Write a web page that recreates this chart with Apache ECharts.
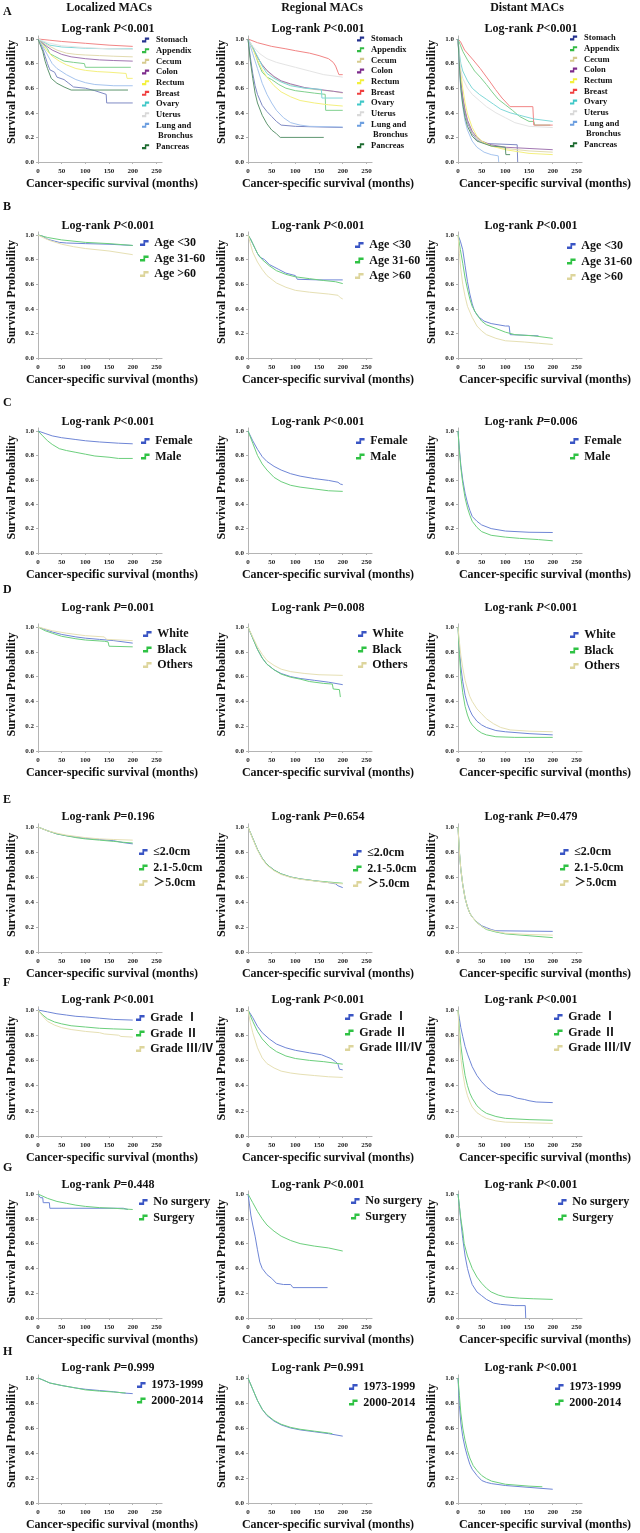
<!DOCTYPE html>
<html><head><meta charset="utf-8">
<script src="https://cdn.jsdelivr.net/npm/echarts@6/dist/echarts.min.js"></script>
<style>html,body{margin:0;padding:0;background:#fff}#c{width:640px;height:1533px}</style>
</head><body><div id="c"></div><script>
// ---------- tick labels / categories ----------
const xTicks = [0, 50, 100, 150, 200, 250];
const yTicks = [0, 0.2, 0.4, 0.6, 0.8, 1.0];
const colTitles = ['Localized MACs', 'Regional MACs', 'Distant MACs'];
const rowLetters = ['A', 'B', 'C', 'D', 'E', 'F', 'G', 'H'];
const pValues = [
  ['<0.001', '<0.001', '<0.001'],
  ['<0.001', '<0.001', '<0.001'],
  ['<0.001', '<0.001', '=0.006'],
  ['=0.001', '=0.008', '<0.001'],
  ['=0.196', '=0.654', '=0.479'],
  ['<0.001', '<0.001', '<0.001'],
  ['=0.448', '<0.001', '<0.001'],
  ['=0.999', '=0.991', '<0.001']
];
const groupNames = [
  ['Stomach', 'Appendix', 'Cecum', 'Colon', 'Rectum', 'Breast', 'Ovary', 'Uterus', 'Lung and Bronchus', 'Pancreas'],
  ['Age <30', 'Age 31-60', 'Age >60'],
  ['Female', 'Male'],
  ['White', 'Black', 'Others'],
  ['≤2.0cm', '2.1-5.0cm', '＞5.0cm'],
  ['Grade Ⅰ', 'Grade Ⅱ', 'Grade Ⅲ/Ⅳ'],
  ['No surgery', 'Surgery'],
  ['1973-1999', '2000-2014']
];

// ---------- survival data [month, probability] ----------
// Row A - Localized
const A1_stomach = [[0,1],[5,0.97],[10,0.92],[15,0.86],[20,0.8],[25,0.75],[35,0.73],[40,0.69],[55,0.67],[65,0.64],[75,0.61],[100,0.6],[120,0.58],[144,0.55],[145,0.48],[200,0.48]];
const A1_appendix = [[0,1],[10,0.96],[20,0.92],[25,0.88],[35,0.86],[45,0.84],[55,0.82],[75,0.81],[98,0.8],[100,0.77],[196,0.77]];
const A1_cecum = [[0,1],[20,0.95],[40,0.91],[60,0.885],[80,0.875],[100,0.87],[130,0.865],[160,0.86],[200,0.855]];
const A1_colon = [[0,1],[15,0.95],[30,0.91],[50,0.875],[70,0.855],[100,0.84],[130,0.83],[160,0.825],[200,0.82]];
const A1_rectum = [[0,1],[10,0.95],[20,0.9],[30,0.86],[45,0.82],[60,0.79],[80,0.76],[100,0.745],[125,0.735],[150,0.73],[186,0.72],[188,0.68],[200,0.68]];
const A1_breast = [[0,1],[25,0.99],[50,0.98],[100,0.965],[150,0.95],[200,0.94]];
const A1_ovary = [[0,1],[10,0.98],[25,0.95],[50,0.935],[100,0.925],[150,0.92],[200,0.92]];
const A1_uterus = [[0,1],[20,0.97],[50,0.945],[100,0.93],[150,0.92],[200,0.915]];
const A1_lung = [[0,1],[10,0.94],[20,0.87],[30,0.8],[40,0.76],[60,0.71],[80,0.67],[100,0.645],[120,0.63],[160,0.62],[200,0.62]];
const A1_pancreas = [[0,1],[10,0.9],[15,0.82],[20,0.76],[28,0.68],[40,0.64],[55,0.61],[70,0.585],[190,0.585]];
// Row A - Regional
const A2_stomach = [[0,1],[5,0.85],[10,0.72],[15,0.62],[20,0.55],[30,0.46],[40,0.41],[50,0.37],[60,0.33],[70,0.3],[100,0.29],[150,0.285],[200,0.28]];
const A2_appendix = [[0,1],[8,0.95],[15,0.88],[22,0.8],[30,0.73],[40,0.69],[50,0.67],[65,0.63],[80,0.6],[100,0.58],[120,0.57],[140,0.56],[163,0.55],[164,0.42],[200,0.42]];
const A2_cecum = [[0,1],[10,0.93],[20,0.85],[30,0.79],[40,0.74],[55,0.69],[70,0.655],[90,0.63],[120,0.6],[150,0.585],[180,0.575],[200,0.56]];
const A2_colon = [[0,1],[10,0.93],[20,0.85],[30,0.79],[40,0.745],[55,0.695],[70,0.66],[90,0.635],[120,0.605],[150,0.59],[180,0.575],[200,0.565]];
const A2_rectum = [[0,1],[10,0.92],[20,0.83],[30,0.75],[40,0.69],[55,0.62],[70,0.57],[90,0.53],[110,0.5],[140,0.48],[170,0.465],[200,0.455]];
const A2_breast = [[0,1],[20,0.97],[50,0.94],[80,0.92],[100,0.905],[130,0.885],[150,0.865],[170,0.84],[180,0.81],[185,0.78],[190,0.73],[192,0.71],[200,0.71]];
const A2_ovary = [[0,1],[10,0.93],[20,0.86],[30,0.78],[40,0.72],[55,0.68],[70,0.65],[90,0.62],[120,0.6],[155,0.59],[156,0.52],[200,0.52]];
const A2_uterus = [[0,1],[10,0.94],[25,0.88],[40,0.84],[60,0.81],[80,0.79],[100,0.77],[130,0.74],[160,0.71],[200,0.69]];
const A2_lung = [[0,1],[10,0.88],[20,0.76],[30,0.64],[40,0.55],[50,0.48],[60,0.42],[75,0.36],[90,0.32],[110,0.3],[130,0.29],[200,0.285]];
const A2_pancreas = [[0,1],[5,0.82],[10,0.68],[15,0.56],[20,0.48],[30,0.38],[40,0.31],[50,0.26],[60,0.23],[68,0.2],[160,0.2]];
// Row A - Distant
const A3_stomach = [[0,1],[3,0.82],[6,0.66],[10,0.52],[15,0.4],[20,0.32],[30,0.23],[40,0.18],[50,0.16],[60,0.15],[125,0.14],[126,0]];
const A3_appendix = [[0,1],[5,0.95],[10,0.9],[20,0.83],[25,0.8],[35,0.74],[47,0.69],[60,0.63],[72,0.57],[85,0.51],[100,0.465],[115,0.42],[130,0.37],[150,0.33],[160,0.33],[162,0.3],[195,0.3]];
const A3_cecum = [[0,1],[3,0.8],[6,0.65],[10,0.53],[15,0.42],[20,0.34],[30,0.24],[40,0.19],[50,0.16],[70,0.13],[100,0.11],[150,0.09],[200,0.08]];
const A3_colon = [[0,1],[3,0.8],[6,0.65],[10,0.53],[15,0.42],[20,0.34],[30,0.25],[40,0.2],[50,0.17],[70,0.14],[100,0.12],[150,0.11],[200,0.1]];
const A3_rectum = [[0,1],[3,0.85],[6,0.72],[10,0.6],[15,0.48],[20,0.39],[30,0.28],[40,0.21],[50,0.17],[70,0.13],[100,0.1],[150,0.07],[200,0.06]];
const A3_breast = [[0,1],[5,0.98],[14,0.91],[32,0.83],[47,0.76],[68,0.65],[79,0.59],[93,0.52],[110,0.45],[158,0.45],[160,0.3],[200,0.3]];
const A3_ovary = [[0,1],[3,0.88],[6,0.8],[10,0.74],[20,0.66],[30,0.6],[45,0.55],[60,0.51],[75,0.47],[90,0.43],[110,0.4],[130,0.38],[160,0.35],[200,0.33]];
const A3_uterus = [[0,1],[3,0.85],[6,0.75],[10,0.68],[20,0.6],[30,0.55],[45,0.5],[60,0.45],[80,0.4],[100,0.36],[120,0.32],[150,0.29],[200,0.28]];
const A3_lung = [[0,1],[3,0.75],[6,0.58],[10,0.45],[15,0.33],[20,0.26],[30,0.17],[40,0.12],[55,0.08],[70,0.06],[85,0.05],[86,0]];
const A3_pancreas = [[0,1],[3,0.78],[6,0.6],[10,0.47],[15,0.36],[20,0.29],[30,0.21],[40,0.17],[55,0.15],[70,0.13],[100,0.12],[101,0.06],[110,0.06]];
// Row B - Age
const B1_young = [[0,1],[10,0.99],[18,0.97],[25,0.96],[35,0.95],[45,0.94],[60,0.935],[100,0.93],[150,0.925],[200,0.915]];
const B1_mid = [[0,1],[20,0.98],[50,0.96],[100,0.94],[150,0.93],[200,0.915]];
const B1_old = [[0,1],[10,0.98],[25,0.955],[50,0.925],[75,0.905],[100,0.89],[150,0.87],[200,0.84]];
const B2_young = [[0,1],[5,0.97],[10,0.93],[15,0.89],[20,0.85],[25,0.82],[35,0.8],[45,0.76],[55,0.74],[65,0.72],[80,0.69],[100,0.67],[104,0.64],[150,0.635],[200,0.635]];
const B2_mid = [[0,1],[5,0.97],[10,0.93],[15,0.89],[20,0.85],[30,0.8],[45,0.75],[60,0.71],[80,0.68],[100,0.66],[130,0.645],[160,0.63],[185,0.62],[200,0.605]];
const B2_old = [[0,1],[5,0.93],[10,0.86],[20,0.78],[30,0.72],[40,0.67],[60,0.61],[80,0.575],[100,0.55],[130,0.535],[170,0.52],[190,0.51],[195,0.49],[200,0.48]];
const B3_young = [[0,1],[5,0.95],[10,0.88],[15,0.75],[20,0.62],[25,0.52],[30,0.44],[35,0.38],[45,0.33],[55,0.3],[70,0.28],[100,0.26],[108,0.26],[110,0.19],[170,0.18]];
const B3_mid = [[0,1],[5,0.88],[10,0.77],[15,0.65],[20,0.56],[25,0.48],[30,0.42],[40,0.35],[50,0.3],[60,0.27],[80,0.24],[100,0.21],[120,0.19],[160,0.18],[200,0.16]];
const B3_old = [[0,1],[3,0.85],[6,0.72],[10,0.6],[15,0.5],[20,0.42],[30,0.33],[40,0.26],[50,0.22],[60,0.19],[80,0.16],[100,0.14],[140,0.13],[170,0.12],[200,0.11]];
// Row C - Sex
const C1_female = [[0,1],[15,0.98],[30,0.96],[50,0.945],[80,0.93],[100,0.92],[130,0.91],[170,0.9],[200,0.895]];
const C1_male = [[0,1],[10,0.96],[20,0.92],[30,0.89],[45,0.855],[60,0.84],[80,0.825],[100,0.81],[120,0.795],[150,0.785],[170,0.775],[200,0.775]];
const C2_female = [[0,1],[10,0.92],[20,0.85],[30,0.79],[40,0.75],[55,0.71],[70,0.68],[90,0.65],[110,0.63],[140,0.61],[170,0.595],[190,0.58],[195,0.565],[200,0.56]];
const C2_male = [[0,1],[10,0.9],[20,0.8],[30,0.73],[40,0.68],[55,0.62],[70,0.585],[90,0.555],[110,0.54],[140,0.525],[170,0.51],[200,0.505]];
const C3_female = [[0,1],[3,0.85],[6,0.72],[10,0.6],[15,0.49],[20,0.41],[25,0.35],[30,0.3],[40,0.26],[50,0.23],[70,0.2],[100,0.18],[150,0.17],[200,0.168]];
const C3_male = [[0,1],[3,0.83],[6,0.7],[10,0.57],[15,0.45],[20,0.37],[25,0.31],[30,0.26],[40,0.21],[50,0.175],[70,0.145],[100,0.13],[130,0.12],[170,0.11],[200,0.1]];
// Row D - Race
const D1_white = [[0,1],[15,0.98],[30,0.96],[50,0.94],[80,0.92],[100,0.91],[130,0.9],[160,0.89],[200,0.87]];
const D1_black = [[0,1],[15,0.97],[30,0.95],[50,0.925],[80,0.905],[100,0.895],[140,0.885],[148,0.88],[150,0.845],[200,0.84]];
const D1_others = [[0,1],[15,0.985],[30,0.97],[60,0.95],[100,0.93],[140,0.92],[145,0.9],[200,0.89]];
const D2_white = [[0,1],[10,0.91],[20,0.82],[30,0.75],[40,0.7],[55,0.655],[70,0.625],[90,0.6],[110,0.585],[140,0.57],[170,0.555],[200,0.535]];
const D2_black = [[0,1],[10,0.91],[20,0.82],[30,0.75],[40,0.7],[55,0.655],[70,0.62],[90,0.595],[110,0.58],[130,0.56],[160,0.545],[178,0.54],[180,0.5],[193,0.495],[195,0.435]];
const D2_others = [[0,1],[10,0.92],[20,0.84],[30,0.78],[40,0.73],[55,0.69],[70,0.66],[90,0.64],[120,0.625],[150,0.615],[200,0.61]];
const D3_white = [[0,1],[3,0.82],[6,0.68],[10,0.56],[15,0.45],[20,0.38],[25,0.33],[30,0.29],[40,0.24],[50,0.21],[60,0.19],[80,0.165],[100,0.155],[150,0.14],[200,0.13]];
const D3_black = [[0,1],[3,0.78],[6,0.6],[10,0.47],[15,0.36],[20,0.29],[25,0.24],[30,0.21],[40,0.17],[50,0.145],[60,0.13],[80,0.115],[120,0.11],[200,0.11]];
const D3_others = [[0,1],[3,0.88],[6,0.77],[10,0.67],[15,0.57],[20,0.5],[25,0.44],[30,0.4],[40,0.34],[50,0.3],[60,0.26],[75,0.22],[90,0.19],[110,0.17],[150,0.16],[200,0.155]];
// Row E - Size
const E1_small = [[0,1],[20,0.97],[40,0.945],[60,0.93],[80,0.92],[100,0.91],[130,0.9],[160,0.89],[180,0.875],[200,0.865]];
const E1_mid = [[0,1],[20,0.97],[40,0.945],[60,0.93],[80,0.915],[100,0.905],[130,0.895],[160,0.885],[180,0.878],[200,0.872]];
const E1_large = [[0,1],[20,0.97],[40,0.95],[60,0.935],[80,0.925],[100,0.915],[130,0.905],[160,0.9],[200,0.895]];
const E2_small = [[0,1],[10,0.91],[20,0.82],[30,0.75],[40,0.7],[55,0.655],[70,0.625],[90,0.6],[110,0.585],[140,0.57],[170,0.555],[185,0.545],[190,0.53],[200,0.515]];
const E2_mid = [[0,1],[10,0.91],[20,0.82],[30,0.75],[40,0.7],[55,0.655],[70,0.625],[90,0.6],[110,0.585],[140,0.57],[170,0.56],[200,0.55]];
const E2_large = [[0,1],[10,0.905],[20,0.815],[30,0.745],[40,0.695],[55,0.65],[70,0.62],[90,0.597],[110,0.582],[140,0.568],[170,0.555],[200,0.545]];
const E3_small = [[0,1],[3,0.8],[6,0.66],[10,0.54],[15,0.43],[20,0.36],[25,0.31],[30,0.28],[40,0.24],[50,0.21],[60,0.195],[70,0.18],[80,0.17],[200,0.165]];
const E3_mid = [[0,1],[3,0.8],[6,0.66],[10,0.54],[15,0.43],[20,0.36],[25,0.31],[30,0.28],[40,0.235],[50,0.205],[60,0.18],[80,0.16],[100,0.145],[150,0.13],[200,0.115]];
const E3_large = [[0,1],[3,0.8],[6,0.66],[10,0.54],[15,0.43],[20,0.36],[25,0.31],[30,0.28],[40,0.235],[50,0.205],[60,0.185],[80,0.165],[100,0.15],[150,0.14],[200,0.135]];
// Row F - Grade
const F1_g1 = [[0,1],[20,0.985],[40,0.97],[60,0.96],[80,0.95],[100,0.945],[130,0.935],[160,0.925],[200,0.92]];
const F1_g2 = [[0,1],[10,0.96],[20,0.93],[35,0.905],[50,0.89],[70,0.875],[100,0.865],[130,0.855],[160,0.85],[200,0.845]];
const F1_g3 = [[0,1],[10,0.95],[20,0.91],[35,0.88],[50,0.86],[70,0.845],[100,0.83],[130,0.82],[140,0.81],[170,0.8],[175,0.79],[200,0.785]];
const F2_g1 = [[0,1],[10,0.94],[20,0.87],[30,0.82],[45,0.77],[60,0.73],[80,0.7],[100,0.68],[130,0.66],[155,0.645],[165,0.63],[175,0.615],[185,0.59],[190,0.57],[193,0.53],[200,0.525]];
const F2_g2 = [[0,1],[10,0.91],[20,0.83],[30,0.77],[45,0.71],[60,0.67],[80,0.635],[100,0.615],[130,0.6],[160,0.59],[200,0.57]];
const F2_g3 = [[0,1],[5,0.9],[10,0.82],[20,0.7],[30,0.62],[40,0.575],[55,0.54],[70,0.515],[90,0.5],[110,0.49],[140,0.48],[170,0.47],[200,0.465]];
const F3_g1 = [[0,1],[3,0.93],[6,0.86],[10,0.79],[15,0.71],[20,0.65],[25,0.6],[30,0.55],[40,0.48],[50,0.43],[60,0.39],[70,0.36],[85,0.33],[110,0.32],[125,0.3],[140,0.29],[150,0.28],[165,0.27],[200,0.265]];
const F3_g2 = [[0,1],[3,0.85],[6,0.72],[10,0.6],[15,0.48],[20,0.4],[25,0.34],[30,0.3],[40,0.24],[50,0.205],[60,0.18],[80,0.155],[100,0.14],[150,0.13],[200,0.125]];
const F3_g3 = [[0,1],[3,0.78],[6,0.62],[10,0.5],[15,0.39],[20,0.32],[25,0.27],[30,0.23],[40,0.185],[50,0.16],[60,0.14],[80,0.12],[100,0.11],[150,0.105],[200,0.1]];
// Row G - Surgery
const G1_none = [[0,1],[4,1],[5,0.97],[10,0.97],[11,0.93],[24,0.93],[25,0.885],[180,0.885],[190,0.875]];
const G1_surg = [[0,1],[20,0.965],[40,0.94],[60,0.925],[80,0.91],[100,0.9],[130,0.89],[160,0.885],[180,0.88],[200,0.875]];
const G2_none = [[0,1],[3,0.92],[6,0.83],[10,0.75],[15,0.66],[20,0.55],[25,0.45],[30,0.4],[40,0.35],[50,0.32],[60,0.28],[75,0.27],[90,0.27],[95,0.245],[168,0.245]];
const G2_surg = [[0,1],[10,0.93],[20,0.86],[30,0.8],[40,0.75],[55,0.7],[70,0.66],[90,0.625],[110,0.6],[140,0.58],[170,0.565],[200,0.54]];
const G3_none = [[0,1],[3,0.9],[6,0.78],[10,0.64],[15,0.5],[20,0.4],[25,0.33],[30,0.27],[40,0.21],[50,0.18],[60,0.15],[75,0.12],[90,0.11],[120,0.1],[142,0.1],[143,0]];
const G3_surg = [[0,1],[3,0.9],[6,0.8],[10,0.7],[13,0.6],[20,0.5],[30,0.4],[40,0.33],[50,0.28],[60,0.24],[70,0.21],[85,0.185],[100,0.17],[130,0.16],[160,0.155],[200,0.15]];
// Row H - Period
const H1_early = [[0,1],[10,0.985],[25,0.96],[50,0.94],[80,0.92],[100,0.91],[130,0.9],[160,0.89],[180,0.88],[200,0.875]];
const H1_late = [[0,1],[10,0.985],[25,0.96],[50,0.94],[80,0.92],[100,0.905],[130,0.895],[160,0.888],[185,0.88]];
const H2_early = [[0,1],[10,0.91],[20,0.82],[30,0.75],[40,0.7],[55,0.655],[70,0.625],[90,0.6],[110,0.585],[140,0.57],[170,0.555],[200,0.535]];
const H2_late = [[0,1],[10,0.91],[20,0.82],[30,0.75],[40,0.705],[55,0.66],[70,0.63],[90,0.605],[110,0.59],[140,0.575],[170,0.56],[178,0.555]];
const H3_early = [[0,1],[3,0.78],[6,0.64],[10,0.53],[15,0.44],[20,0.37],[25,0.31],[30,0.27],[40,0.22],[50,0.18],[60,0.165],[71,0.155],[100,0.14],[150,0.125],[200,0.11]];
const H3_late = [[0,1],[3,0.86],[6,0.72],[10,0.6],[15,0.5],[20,0.42],[25,0.36],[32,0.3],[40,0.26],[50,0.22],[60,0.195],[71,0.175],[100,0.15],[150,0.135],[178,0.13]];

const panelData = [
  [[A1_stomach,A1_appendix,A1_cecum,A1_colon,A1_rectum,A1_breast,A1_ovary,A1_uterus,A1_lung,A1_pancreas],
   [A2_stomach,A2_appendix,A2_cecum,A2_colon,A2_rectum,A2_breast,A2_ovary,A2_uterus,A2_lung,A2_pancreas],
   [A3_stomach,A3_appendix,A3_cecum,A3_colon,A3_rectum,A3_breast,A3_ovary,A3_uterus,A3_lung,A3_pancreas]],
  [[B1_young,B1_mid,B1_old],[B2_young,B2_mid,B2_old],[B3_young,B3_mid,B3_old]],
  [[C1_female,C1_male],[C2_female,C2_male],[C3_female,C3_male]],
  [[D1_white,D1_black,D1_others],[D2_white,D2_black,D2_others],[D3_white,D3_black,D3_others]],
  [[E1_small,E1_mid,E1_large],[E2_small,E2_mid,E2_large],[E3_small,E3_mid,E3_large]],
  [[F1_g1,F1_g2,F1_g3],[F2_g1,F2_g2,F2_g3],[F3_g1,F3_g2,F3_g3]],
  [[G1_none,G1_surg],[G2_none,G2_surg],[G3_none,G3_surg]],
  [[H1_early,H1_late],[H2_early,H2_late],[H3_early,H3_late]]
];

// ---------- styling / layout ----------
const FONT = '"Liberation Serif","Times New Roman","Noto Sans CJK SC",serif';
const siteStrong = ['#25328f','#33bb44','#d6cb8e','#7d2b8c','#f3f03c','#f04040','#40c8c8','#d9d9d9','#6d9fe0','#1d6b30'];
const sitePale = ['#7f8ac4','#80d08e','#e2dbb0','#a277b2','#f4f07e','#f28585','#7fd8d8','#e4e4e4','#a6c4ee','#5f9670'];
const grpStrong = ['#3a55c4','#2fc244','#ddd59c'];
const grpPale = ['#6f86d6','#6ccf7d','#e6e0b4'];
const colLeft = [38, 248, 458];
const pxPerMonth = 0.4736;
const xMax = 262;
const yMax = 1.025;
const y1s = [39, 235, 431, 627, 827, 1010, 1194, 1378];
const y0s = [162, 358, 553, 751, 952, 1136, 1318, 1503];
const logYs = [29, 226, 422, 608, 817, 1000, 1185, 1368];
const letterYs = [12, 207, 403, 590, 800, 983, 1168, 1352];
const legCY = [[40,39,38],[243,245,246],[441,441,441],[634,634,635],[852,853,852],[1018,1017,1017],[1202,1201,1202],[1385,1387,1387]];
const legX = [[142,357,570],[140,355,567],[141,356,570],[143,358,570],[139,353,560],[136,345,554],[139,351,558],[137,349,555]];
const logCX = [108, 318, 531];
const headCX = [109, 322, 527];
const xTitleCX = [112, 328, 545];
const STEP = 'path://M0,4 H4 V0 H10 V3 H6 V7 H0 Z';

const grids = [], xAxes = [], yAxes = [], series = [], legends = [], graphics = [];
const axisLine = {show: true, onZero: false, lineStyle: {color: '#b4b4b4', width: 1}};
const tickLabel = {color: '#222', fontSize: 7, fontWeight: 'bold', fontFamily: FONT};

function legendBase(x, top, small, data) {
  const lh = small ? 10.67 : 15.5;
  return {orient: 'vertical', left: x, top: top, padding: 0,
    itemGap: 0, itemWidth: small ? 11 : 10, itemHeight: small ? 5 : 6, icon: STEP,
    selectedMode: false, data: data,
    formatter: n => n === 'Lung and Bronchus' ? 'Lung and' : n,
    textStyle: {fontFamily: FONT, fontWeight: 'bold', fontSize: small ? 8.5 : 12, lineHeight: lh, color: '#111'}};
}

for (let r = 0; r < 8; r++) {
  const h = y0s[r] - y1s[r];
  for (let c = 0; c < 3; c++) {
    const i = r * 3 + c;
    grids.push({left: colLeft[c], top: y0s[r] - yMax * h, width: xMax * pxPerMonth, height: yMax * h});
    xAxes.push({type: 'value', gridIndex: i, min: 0, max: xMax,
      axisLine: axisLine, splitLine: {show: false},
      axisTick: {show: true, length: 2, customValues: xTicks, lineStyle: {color: '#b4b4b4'}},
      axisLabel: Object.assign({customValues: xTicks, margin: 6}, tickLabel)});
    yAxes.push({type: 'value', gridIndex: i, min: 0, max: yMax,
      name: 'Survival Probability', nameLocation: 'middle', nameGap: 20,
      nameTextStyle: {fontFamily: FONT, fontWeight: 'bold', fontSize: 12, color: '#111', padding: [0, 0, 0, r === 0 ? 14 : 6]},
      axisLine: axisLine, splitLine: {show: false},
      axisTick: {show: true, length: 2, customValues: yTicks, lineStyle: {color: '#b4b4b4'}},
      axisLabel: Object.assign({customValues: yTicks, margin: 4, formatter: v => v.toFixed(1)}, tickLabel)});
    const names = groupNames[r];
    const strong = r === 0 ? siteStrong : grpStrong;
    const pale = r === 0 ? sitePale : grpPale;
    panelData[r][c].forEach((d, k) => {
      series.push({type: 'line', name: names[k], xAxisIndex: i, yAxisIndex: i, data: d,
        symbol: 'none', showSymbol: false, silent: true, color: strong[k],
        itemStyle: {color: strong[k]}, lineStyle: {color: pale[k], width: 1}});
    });
    if (r === 0) {
      const lh = 10.67;
      const top = legCY[r][c] - lh / 2;
      legends.push(legendBase(legX[r][c], top, true, names.slice(0, 9)));
      legends.push(legendBase(legX[r][c], top + 10 * lh, true, names.slice(9)));
      graphics.push({type: 'text', x: legX[r][c] + 16, y: legCY[r][c] + 9 * lh, style: {
        text: 'Bronchus', align: 'left', verticalAlign: 'middle', font: 'bold 8.5px ' + FONT, fill: '#111'}});
    } else {
      legends.push(legendBase(legX[r][c], legCY[r][c] - 7.75, false, names.slice()));
    }
    graphics.push({type: 'text', x: logCX[c], y: logYs[r], style: {
      text: '{a|Log-rank }{b|P}{a|' + pValues[r][c] + '}', align: 'center', verticalAlign: 'middle',
      rich: {a: {fontFamily: FONT, fontWeight: 'bold', fontSize: 12, fill: '#111'},
             b: {fontFamily: FONT, fontWeight: 'bold', fontStyle: 'italic', fontSize: 12, fill: '#111'}}}});
    graphics.push({type: 'text', x: xTitleCX[c], y: y0s[r] + 22, style: {
      text: 'Cancer-specific survival (months)', align: 'center', verticalAlign: 'middle',
      font: 'bold 12px ' + FONT, fill: '#111'}});
  }
  graphics.push({type: 'text', x: 3, y: letterYs[r], style: {text: rowLetters[r], align: 'left', verticalAlign: 'middle', font: 'bold 12px ' + FONT, fill: '#111'}});
}
colTitles.forEach((t, c) => graphics.push({type: 'text', x: headCX[c], y: 8, style: {text: t, align: 'center', verticalAlign: 'middle', font: 'bold 12px ' + FONT, fill: '#111'}}));

const chart = echarts.init(document.getElementById('c'), null, {renderer: 'canvas'});
chart.setOption({
  animation: false, backgroundColor: '#fff',
  grid: grids, xAxis: xAxes, yAxis: yAxes, series: series, legend: legends, graphic: graphics
});
</script></body></html>
